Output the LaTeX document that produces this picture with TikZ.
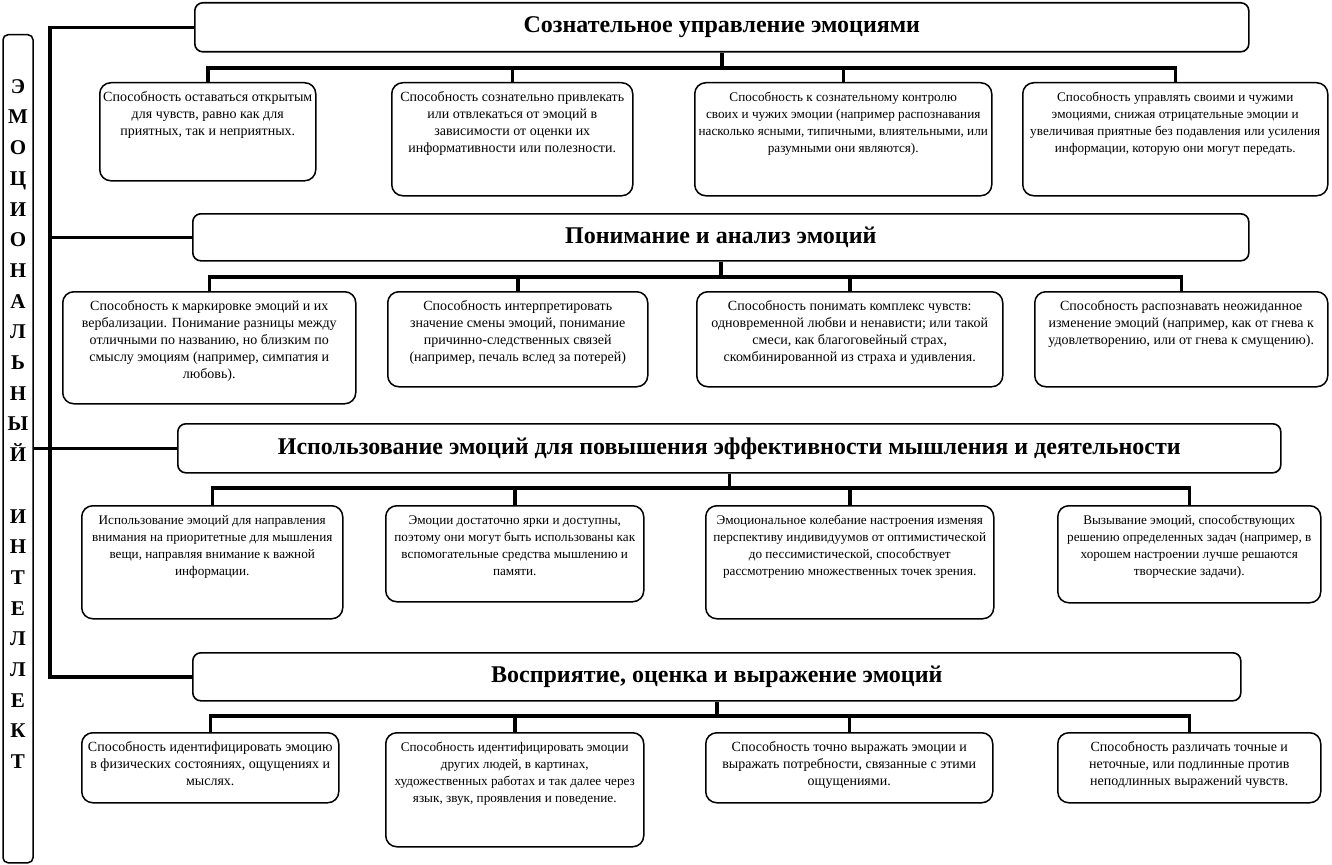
\documentclass[tikz,border=0pt]{standalone}
\usepackage{fontspec}
\setmainfont{Liberation Serif}
\usetikzlibrary{positioning}

\begin{document}
\begin{tikzpicture}[x=1pt,y=-1pt,
  bus/.style={line width=3.5pt},
  head/.style={draw, line width=1.6pt, rounded corners=8pt, anchor=north west,
    font=\fontsize{24}{26}\selectfont\bfseries},
  ability/.style={draw, line width=1.5pt, rounded corners=11pt, anchor=north west,
    align=center, inner xsep=3pt, inner ysep=5pt,
    font=\fontsize{14}{17}\selectfont},
  narrow/.style={font=\fontsize{13.2}{17}\selectfont},
  l3/.style={text height=48pt},
  l4/.style={text height=65pt},
  l5/.style={text height=82pt}]

\useasboundingbox (0,0) rectangle (1332,864);

% left column
\node[draw, line width=1.5pt, rounded corners=5pt, anchor=north, minimum width=30pt,
  inner xsep=0pt, inner ysep=43.5pt, text height=690.4pt, text depth=50.6pt, align=center,
  font=\fontsize{21}{30.7}\selectfont\bfseries] (ei) at (18,34)
  {Э\\М\\О\\Ц\\И\\О\\Н\\А\\Л\\Ь\\Н\\Ы\\Й\\\mbox{}\\И\\Н\\Т\\Е\\Л\\Л\\Е\\К\\Т};

% headers
\node[head, minimum width=1054pt, minimum height=49pt] (h1) at (194,2) {Сознательное управление эмоциями};
\node[head, minimum width=1056pt, minimum height=47pt] (h2) at (192,213) {Понимание и анализ эмоций};
\node[head, minimum width=1103pt, minimum height=49pt] (h3) at (177,423) {Использование эмоций для повышения эффективности мышления и деятельности};
\node[head, minimum width=1048pt, minimum height=48pt] (h4) at (192,652) {Восприятие, оценка и выражение эмоций};

% row 1
\node[ability, l3, minimum width=216pt, text depth=40pt] (b11) at (99,82)
  {Способность оставаться открытым\\ для чувств, равно как для\\ приятных, так и  неприятных.};
\node[ability, l4, minimum width=241pt, text depth=38pt] (b12) at (391,82)
  {Способность сознательно привлекать\\ или отвлекаться от эмоций в\\ зависимости от оценки их\\ информативности или полезности.};
\node[ability, l4, narrow, minimum width=297pt, text depth=38pt] (b13) at (694,82)
  {Способность к сознательному контролю\\ своих и чужих эмоции (например распознавания\\ насколько ясными, типичными, влиятельными, или\\ разумными они являются).};
\node[ability, l4, narrow, minimum width=305pt, text depth=38pt] (b14) at (1022,82)
  {Способность управлять своими и чужими\\ эмоциями, снижая отрицательные эмоции и\\ увеличивая приятные без подавления или усиления\\ информации, которую они могут передать.};

% row 2
\node[ability, l5, minimum width=293pt, text depth=20pt] (b21) at (62,291)
  {Способность к маркировке эмоций и их\\ вербализации. Понимание разницы между\\ отличными по названию, но близким по\\ смыслу эмоциям (например,  симпатия и\\ любовь).};
\node[ability, l4, minimum width=260pt, text depth=20pt] (b22) at (387,291)
  {Способность интерпретировать\\ значение смены эмоций,  понимание\\ причинно-следственных связей\\ (например, печаль вслед за потерей)};
\node[ability, l4, minimum width=306pt, text depth=20pt] (b23) at (696,291)
  {Способность понимать комплекс чувств:\\ одновременной любви и ненависти;  или такой\\ смеси, как  благоговейный страх,\\ скомбинированной из страха и удивления.};
\node[ability, l3, minimum width=293pt, text depth=37pt] (b24) at (1034,291)
  {Способность распознавать неожиданное\\ изменение эмоций (например, как от гнева к\\ удовлетворению, или от гнева к смущению).};

% row 3
\node[ability, l4, narrow, minimum width=261pt, text depth=38pt] (b31) at (81,505)
  {Использование эмоций для направления\\ внимания  на приоритетные для мышления\\ вещи,  направляя внимание к важной\\ информации.};
\node[ability, l4, narrow, minimum width=258pt, text depth=21pt] (b32) at (385,505)
  {Эмоции достаточно ярки и доступны,\\ поэтому они могут быть использованы как\\ вспомогательные средства  мышлению  и\\ памяти.};
\node[ability, l4, narrow, minimum width=288pt, text depth=38pt] (b33) at (705,505)
  {Эмоциональное колебание настроения изменяя\\ перспективу индивидуумов от оптимистической\\ до пессимистической,  способствует\\ рассмотрению множественных точек зрения.};
\node[ability, l4, narrow, minimum width=263pt, text depth=22pt] (b34) at (1057,505)
  {Вызывание эмоций, способствующих\\ решению определенных задач (например, в\\ хорошем настроении лучше решаются\\ творческие задачи).};

% row 4
\node[ability, l3, minimum width=257pt, text depth=12pt] (b41) at (81,732)
  {Способность идентифицировать эмоцию\\ в физических состояниях, ощущениях и\\ мыслях.};
\node[ability, l4, narrow, minimum width=258pt, text depth=39pt] (b42) at (385,732)
  {Способность идентифицировать эмоции\\ других людей, в картинах,\\ художественных работах и так далее через\\ язык, звук, проявления и поведение.};
\node[ability, l3, minimum width=287pt, text depth=12pt] (b43) at (705,732)
  {Способность точно выражать  эмоции и\\ выражать потребности, связанные с этими\\ ощущениями.};
\node[ability, l3, minimum width=263pt, text depth=12pt] (b44) at (1057,732)
  {Способность различать точные и\\ неточные, или подлинные против\\ неподлинных выражений чувств.};

% spine
\coordinate (sp) at (50,0);
\draw[bus] (h1.west) -| (sp |- h4.west) -- (h4.west);
\draw[bus] (h2.west) -- (sp |- h2.west);
\draw[bus] (ei.east |- h3.west) -- (h3.west);

% rows
\foreach \r/\y in {1/68, 2/277, 3/488, 4/716} {
  \coordinate (bar\r) at (0,\y);
  \draw[bus] (h\r.south) -- (h\r.south |- bar\r);
  \draw[bus] (b\r1.north) -- (b\r1.north |- bar\r) -- (b\r4.north |- bar\r) -- (b\r4.north);
  \foreach \c in {2,3}
    \draw[bus] (b\r\c.north) -- (b\r\c.north |- bar\r);
}

\end{tikzpicture}
\end{document}
